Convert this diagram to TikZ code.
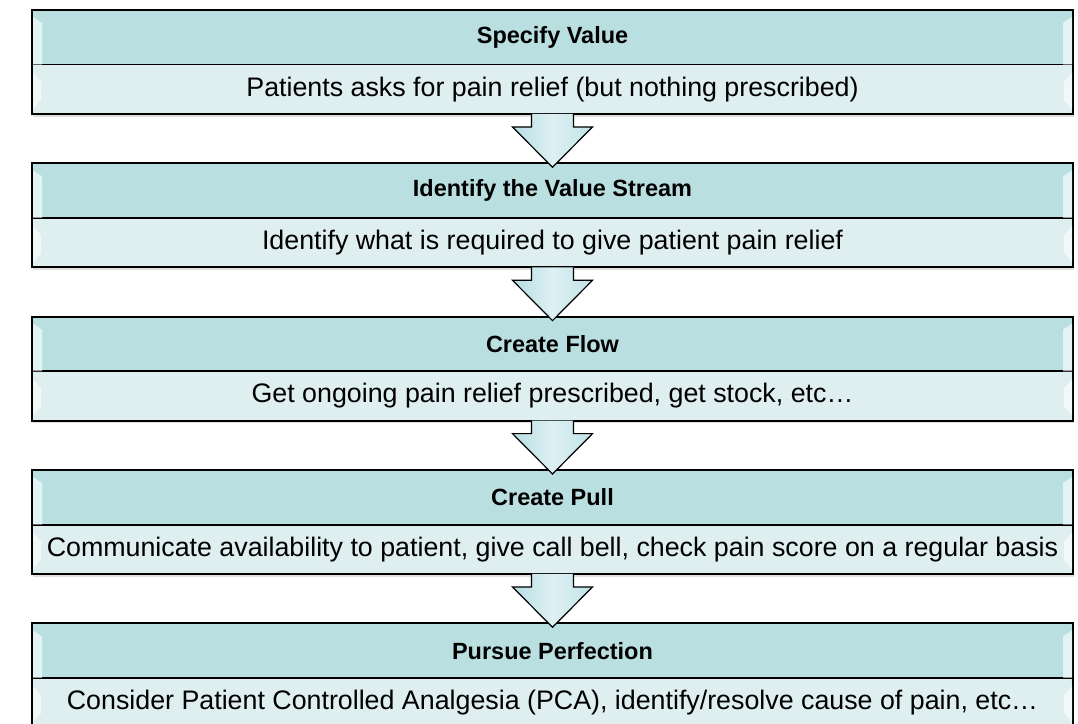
\documentclass[tikz,border=0pt]{standalone}
\usepackage{fontspec}
\setmainfont{Liberation Sans}
\usetikzlibrary{positioning,calc,shadows}
\definecolor{headBlue}{HTML}{BADFE1}
\definecolor{bodyBlue}{HTML}{DFEEEF}
\definecolor{arrowBlue}{HTML}{B5DEE3}

\begin{document}
\begin{tikzpicture}[x=0.75pt,y=-0.75pt]

\tikzstyle{head}=[draw, line width=1.3pt, fill=headBlue, minimum width=780.75pt,
    minimum height=41pt, inner sep=0pt, outer sep=0pt,
    font=\fontsize{17.6}{20}\selectfont\bfseries,
    drop shadow={opacity=0.25,shadow xshift=1pt,shadow yshift=-2pt}]
\tikzstyle{body}=[head, fill=bodyBlue, minimum height=37pt,
    font=\fontsize{20.1}{22}\selectfont]
\tikzstyle{gloss}=[fill=white, fill opacity=0.6, draw=none]
\tikzstyle{blockArrow}=[draw, line width=0.9pt, line join=miter,
    left color=arrowBlue, right color=arrowBlue!85,
    middle color=white!55!arrowBlue]

\useasboundingbox (0,0) rectangle (1078,724);

\node[head] (hd1) at (552.5,37.3) {Specify Value};
\node[body,below=0pt of hd1] (bd1) {Patients asks for pain relief (but nothing prescribed)};

\node[head,below=37pt of bd1] (hd2) {Identify the Value Stream};
\node[body,below=0pt of hd2] (bd2) {Identify what is required to give patient pain relief};

\node[head,below=37pt of bd2] (hd3) {Create Flow};
\node[body,below=0pt of hd3] (bd3) {Get ongoing pain relief prescribed, get stock, etc…};

\node[head,below=37pt of bd3] (hd4) {Create Pull};
\node[body,below=0pt of hd4] (bd4) {Communicate availability to patient, give call bell, check pain score on a regular basis};

\node[head,below=37pt of bd4] (hd5) {Pursue Perfection};
\node[body,below=0pt of hd5] (bd5) {Consider Patient Controlled Analgesia (PCA), identify/resolve cause of pain, etc…};

% bevel highlights on both ends
\foreach \n in {1,...,5} {
    \fill[gloss] ($(hd\n.north west)+(1,7)$) -- ++(9,6) -- ($(hd\n.south west)+(10,0)$) -- ($(hd\n.south west)+(1,0)$) -- cycle;
    \fill[gloss] ($(hd\n.north east)+(-1,7)$) -- ++(-9,6) -- ($(hd\n.south east)+(-10,0)$) -- ($(hd\n.south east)+(-1,0)$) -- cycle;
    \fill[gloss] ($(bd\n.north west)+(1,8)$) -- ++(8,9) -- ($(bd\n.south west)+(9,-14)$) -- ($(bd\n.south west)+(1,-5)$) -- cycle;
    \fill[gloss] ($(bd\n.north east)+(-1,8)$) -- ++(-8,9) -- ($(bd\n.south east)+(-9,-14)$) -- ($(bd\n.south east)+(-1,-5)$) -- cycle;
}

\foreach \a/\b in {bd1/hd2,bd2/hd3,bd3/hd4,bd4/hd5}
    \draw[blockArrow] ($(\a.south)+(-21,0)$) -- ++(0,13) -- ++(-19,0) -- ($(\b.north)+(0,4)$)
        -- ($(\a.south)+(40,13)$) -- ++(-19,0) -- ++(0,-13);

\end{tikzpicture}
\end{document}
